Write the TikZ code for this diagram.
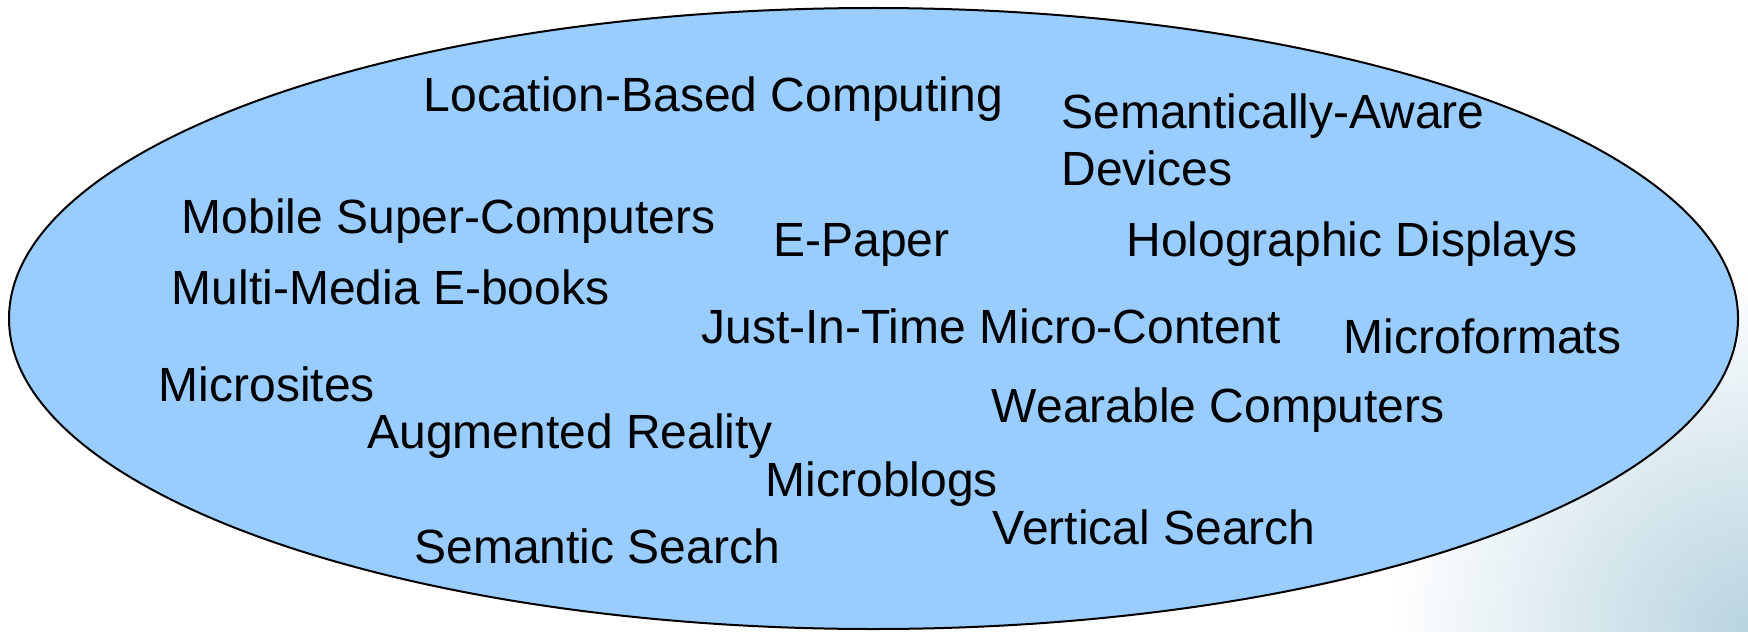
\documentclass[tikz,border=0pt]{standalone}
\usepackage{fontspec}
\setmainfont{Liberation Sans}
\usetikzlibrary{shapes.geometric}
\definecolor{blobfill}{HTML}{99CCFF}
\definecolor{slidetint}{HTML}{B8D4E0}
\tikzset{
  term/.style={anchor=base west, inner sep=0pt, font=\fontsize{24}{28.5}\selectfont, text=black, align=left},
  blob/.style={draw=black, line width=1pt, fill=blobfill, ellipse, inner sep=0pt,
    minimum width=864.5pt, minimum height=310.5pt}
}
\begin{document}
\begin{tikzpicture}[x=0.5pt,y=-0.5pt]
\useasboundingbox (0,0) rectangle (1748,631);
\fill[white] (0,0) rectangle (1748,631);
% faint slide background on the right
\shade[inner color=slidetint, outer color=white] (1748,631) circle (180pt);
\node[blob] (cloud) at (873.5,318.5) {};
\node[term] (loc) at (423.5,112) {Location-Based Computing};
\node[term] (sem) at (1061,185) {Semantically-Aware\\[0pt]Devices};
\node[term] (mob) at (181.5,233) {Mobile Super-Computers};
\node[term] (epa) at (773,256) {E-Paper};
\node[term] (hol) at (1126,256) {Holographic Displays};
\node[term] (mul) at (171.5,304) {Multi-Media E-books};
\node[term] (jit) at (701,343) {Just-In-Time Micro-Content};
\node[term] (mfm) at (1343.5,353) {Microformats};
\node[term] (mst) at (158.5,401) {Microsites};
\node[term] (wea) at (991.5,422) {Wearable Computers};
\node[term] (aug) at (367,448) {Augmented Reality};
\node[term] (mbl) at (765.5,496) {Microblogs};
\node[term] (ver) at (992.5,544) {Vertical Search};
\node[term] (ssr) at (414,563) {Semantic Search};
\end{tikzpicture}
\end{document}
